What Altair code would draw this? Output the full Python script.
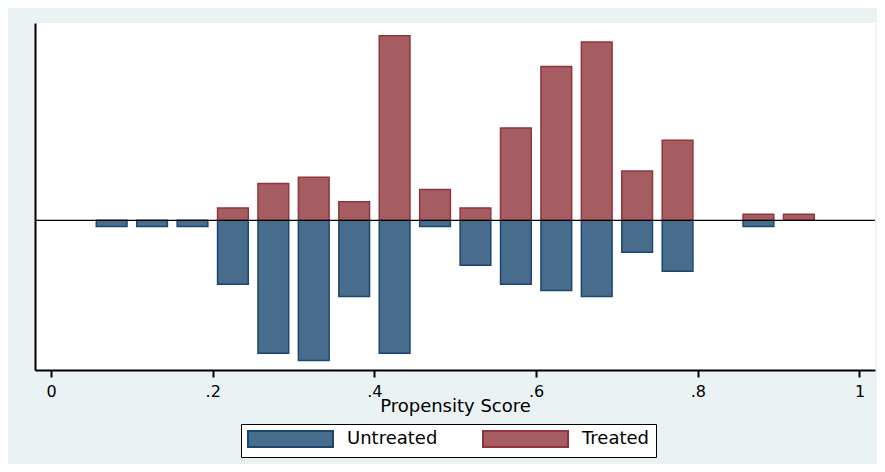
import altair as alt
import pandas as pd

# ---- data ----
groups = ["Untreated", "Treated"]
treated_centers = [0.225, 0.275, 0.325, 0.375, 0.425, 0.475, 0.525, 0.575,
                   0.625, 0.675, 0.725, 0.775, 0.875, 0.925]
treated_counts = [2, 6, 7, 3, 30, 5, 2, 15, 25, 29, 8, 13, 1, 1]
untreated_centers = [0.075, 0.125, 0.175, 0.225, 0.275, 0.325, 0.375, 0.425,
                     0.475, 0.525, 0.575, 0.625, 0.675, 0.725, 0.775, 0.875]
untreated_counts = [1.0, 1.0, 1.0, 10.4, 21.6, 22.8, 12.4, 21.6,
                    1.0, 7.3, 10.4, 11.4, 12.4, 5.2, 8.3, 1.0]
x_ticks = [0, 0.2, 0.4, 0.6, 0.8, 1]
x_tick_labels = ["0", ".2", ".4", ".6", ".8", "1"]

# ---- style ----
fill_colors = ["#486C8C", "#A65D62"]
stroke_colors = ["#1A476F", "#90353B"]
bg = "#EAF2F3"
font = "DejaVu Sans"
half_w = 0.019

rows = []
for c, v in zip(untreated_centers, untreated_counts):
    rows.append({"group": "Untreated", "center": c, "value": -v})
for c, v in zip(treated_centers, treated_counts):
    rows.append({"group": "Treated", "center": c, "value": v})
df = pd.DataFrame(rows)

label_expr = " : ".join(
    f"datum.value == {t} ? '{l}'" for t, l in zip(x_ticks, x_tick_labels)
) + " : ''"

xscale = alt.Scale(domain=[-0.0198, 1.0192], nice=False, zero=False)
yscale = alt.Scale(domain=[-24.34, 32.08], nice=False, zero=False)

legend = alt.Legend(
    orient="none", legendX=206, legendY=401, direction="horizontal", title=None,
    symbolType="M-1,-1H9.625V1H-1Z", symbolSize=256, symbolStrokeWidth=2,
    symbolOpacity=1, labelOffset=82, labelFont=font, labelFontSize=18,
    labelColor="black", columnPadding=41, padding=6, fillColor="white",
    strokeColor="black",
)

bars = alt.Chart(df).transform_calculate(
    x0=f"datum.center - {half_w}", x1=f"datum.center + {half_w}"
).mark_bar(strokeWidth=1.5, opacity=1).encode(
    x=alt.X("x0:Q", scale=xscale, axis=alt.Axis(
        values=x_ticks, labelExpr=label_expr, title="Propensity Score",
        grid=False, domainColor="black", domainWidth=2, tickColor="black",
        tickWidth=2, tickSize=7, labelPadding=6, labelFont=font,
        labelFontSize=16, labelColor="black", labelFlush=False,
        titleFont=font, titleFontSize=18, titleFontWeight="normal",
        titleColor="black", titleBaseline="alphabetic", titleY=41.5)),
    x2="x1:Q",
    y=alt.Y("value:Q", scale=yscale, axis=alt.Axis(
        title=None, labels=False, ticks=False, grid=False,
        domainColor="black", domainWidth=2)),
    y2=alt.datum(0),
    fill=alt.Fill("group:N", scale=alt.Scale(domain=groups, range=fill_colors), legend=legend),
    stroke=alt.Stroke("group:N", scale=alt.Scale(domain=groups, range=stroke_colors), legend=legend),
)

zero = alt.Chart(pd.DataFrame({"y": [0]})).mark_rule(color="black", strokeWidth=1.2).encode(
    y=alt.Y("y:Q", scale=yscale)
)

chart = alt.layer(bars, zero).properties(
    width=840, height=347,
    autosize=alt.AutoSizeParams(type="none"),
    padding={"left": 27, "top": 15, "right": 2, "bottom": 94},
    background=bg,
).configure_view(fill="white", stroke=None).configure_legend(strokeWidth=1)

chart.save("out.html", embed_options={"renderer": "svg", "actions": False})
